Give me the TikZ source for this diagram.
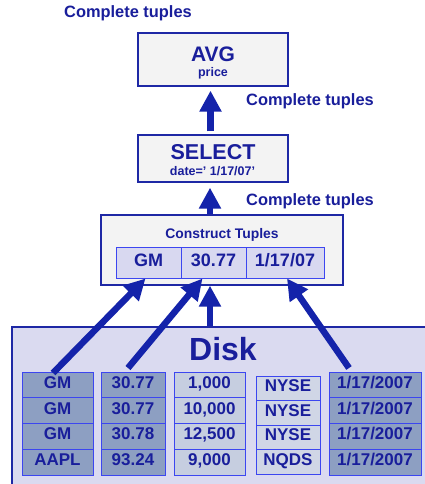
\documentclass[tikz,border=0pt]{standalone}
\usepackage{fontspec}
\setmainfont{Liberation Sans}
\usetikzlibrary{arrows.meta}
\definecolor{tc}{RGB}{25,30,155}
\definecolor{bc}{RGB}{30,40,165}
\definecolor{ac}{RGB}{20,35,170}
\definecolor{cellb}{RGB}{60,70,240}
\definecolor{boxf}{RGB}{243,243,243}
\definecolor{tcf}{RGB}{216,216,240}
\definecolor{diskf}{RGB}{218,218,240}
\definecolor{darkf}{RGB}{141,159,194}
\definecolor{lightf}{RGB}{198,206,224}
\definecolor{lighterf}{RGB}{208,214,230}
\begin{document}
\begin{tikzpicture}[x=1pt,y=-1pt,
  lbl/.style={text=tc, font=\bfseries, inner sep=0pt, anchor=base},
  opbox/.style={draw=bc, fill=boxf, line width=1.3pt, inner sep=0pt},
  tcell/.style={draw=cellb, fill=tcf, line width=1pt, minimum height=31pt, inner sep=0pt,
    text=tc, font=\bfseries\fontsize{18}{20}\selectfont, text height=0.72em, text depth=0pt},
  dcell/.style={draw=cellb, line width=1pt, inner sep=0pt,
    text=tc, font=\bfseries\fontsize{17}{19}\selectfont, text height=0.72em, text depth=0pt},
  bigarrow/.style={draw=ac, line width=6.5pt, -{Triangle[width=21pt,length=21pt]}}]
\useasboundingbox[fill=white] (0,0) rectangle (425,484);

% operator boxes
\node[opbox, minimum width=150pt, minimum height=53pt] (avg) at (213,59.5) {};
\node[lbl, font=\bfseries\fontsize{21}{24}\selectfont] (avgt) at (213,61.5) {AVG};
\node[lbl, font=\bfseries\fontsize{12.5}{14}\selectfont] (avgp) at (213,77) {price};

\node[opbox, minimum width=150pt, minimum height=47pt] (sel) at (213,158.5) {};
\node[lbl, font=\bfseries\fontsize{21.5}{24}\selectfont] (selt) at (213,159.5) {SELECT};
\node[lbl, font=\bfseries\fontsize{12.5}{14}\selectfont] (seld) at (212.5,175.7) {date=’ 1/17/07’};

\node[opbox, minimum width=242pt, minimum height=70pt] (con) at (222,250) {};
\node[lbl, font=\bfseries\fontsize{13.9}{16}\selectfont] (cont) at (222,238.3) {Construct Tuples};
\node[tcell, minimum width=65pt] (tgm) at (148.5,262.5) {GM};
\node[tcell, minimum width=65pt] (tpr) at (213.5,262.5) {30.77};
\node[tcell, minimum width=78pt] (tdt) at (285,262.5) {1/17/07};

% labels
\node[lbl, font=\bfseries\fontsize{16.4}{19}\selectfont] (ct1) at (128,17.3) {Complete tuples};
\node[lbl, font=\bfseries\fontsize{16.4}{19}\selectfont] (ct2) at (310,106) {Complete tuples};
\node[lbl, font=\bfseries\fontsize{16.4}{19}\selectfont] (ct3) at (310,205.7) {Complete tuples};

% disk
\node[draw=bc, fill=diskf, line width=1.5pt, minimum width=420pt, minimum height=165pt, inner sep=0pt] (disk) at (222,409.5) {};
\node[lbl, font=\bfseries\fontsize{32}{36}\selectfont] (diskt) at (223,360) {Disk};

% disk columns
\foreach \i/\v in {1/GM,2/GM,3/GM,4/AAPL}
  \node[dcell, fill=darkf, minimum width=71pt, minimum height=25.75pt] (a\i) at (57.5,{372+25.75*(\i-0.5)}) {\v};
\foreach \i/\v in {1/30.77,2/30.77,3/30.78,4/93.24}
  \node[dcell, fill=darkf, minimum width=64pt, minimum height=25.75pt] (b\i) at (133,{372+25.75*(\i-0.5)}) {\v};
\foreach \i/\v in {1/{1,000},2/{10,000},3/{12,500},4/{9,000}}
  \node[dcell, fill=lightf, minimum width=71pt, minimum height=25.75pt] (c\i) at (209.5,{372+25.75*(\i-0.5)}) {\v};
\foreach \i/\v in {1/NYSE,2/NYSE,3/NYSE,4/NQDS}
  \node[dcell, fill=lighterf, minimum width=64pt, minimum height=24.5pt] (d\i) at (288,{376+24.5*(\i-0.5)}) {\v};
\foreach \i in {1,2,3,4}
  \node[dcell, fill=darkf, minimum width=92pt, minimum height=25.75pt] (e\i) at (375,{372+25.75*(\i-0.5)}) {1/17/2007};

% arrows
\coordinate (s1) at (53,373);
\coordinate (s2) at (128,368);
\coordinate (s4) at (349,368);
\coordinate (selup) at (210.5,0);
\coordinate (conup) at (210,0);
\draw[bigarrow, shorten <=3pt, shorten >=4pt] (sel.north -| selup) -- (avg.south -| selup);
\draw[bigarrow, shorten >=5pt] (con.north -| conup) -- (sel.south -| conup);
\draw[bigarrow] (disk.north -| conup) -- (con.south -| conup);
\draw[bigarrow] (s1) -- ([xshift=-3pt]tgm.south);
\draw[bigarrow] (s2) -- ([xshift=-11pt]tpr.south);
\draw[bigarrow] (s4) -- ([xshift=2pt]tdt.south);
\end{tikzpicture}
\end{document}
